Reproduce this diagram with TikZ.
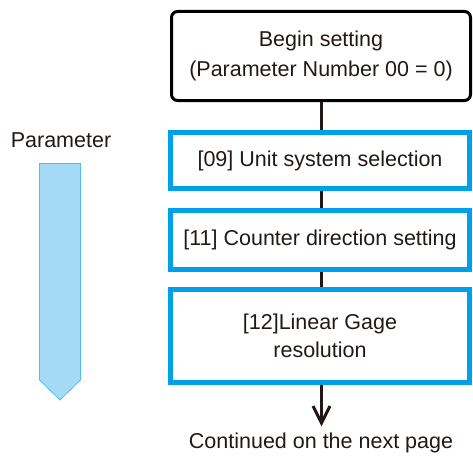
\documentclass[tikz,border=0pt]{standalone}
\usepackage{fontspec}
\setmainfont{Liberation Sans}
\definecolor{cblue}{HTML}{00A0E9}
\definecolor{afill}{HTML}{A5DAF5}
\definecolor{aline}{HTML}{4DBFEF}
\definecolor{txt}{HTML}{231815}
\begin{document}
\begin{tikzpicture}[x=1pt,y=-1pt,
  startbox/.style={draw=black,line width=3pt,rounded corners=6pt,minimum width=299pt,minimum height=89pt,align=center,text=txt,font=\fontsize{21.5}{30}\selectfont,inner sep=0pt},
  parbox/.style={draw=cblue,line width=5pt,minimum width=299pt,align=center,text=txt,font=\fontsize{21.5}{28.5}\selectfont,inner sep=0pt},
  conn/.style={line width=3pt,draw=txt},
  lbl/.style={text=txt,font=\fontsize{21.5}{24}\selectfont,inner sep=0pt}]
\useasboundingbox (0,0) rectangle (473,460);
\node[startbox] (b0) at (321,56) {Begin setting\\(Parameter Number 00 = 0)};
\node[parbox,minimum height=56pt] (b1) at (320,160.5) {[09] Unit system selection};
\node[parbox,minimum height=59pt] (b2) at (320,240) {[11] Counter direction setting};
\node[parbox,minimum height=93pt] (b3) at (320,336) {[12]Linear Gage\\resolution};
\node[lbl] (cont) at (321,443) {Continued on the next page};
\coordinate (end) at (321.5,423);
\draw[conn] (b0.south -| 321.5,0) -- (b1.north -| 321.5,0);
\draw[conn] (b1.south -| 321.5,0) -- (b2.north -| 321.5,0);
\draw[conn] (b2.south -| 321.5,0) -- (b3.north -| 321.5,0);
\draw[conn] (b3.south -| 321.5,0) -- (end);
\draw[conn,line cap=butt] (313,406) -- (end) -- (330,406);
\node[lbl] (ptitle) at (61,140) {Parameter};
\draw[fill=afill,draw=aline,line width=0.8pt] (39.5,163.5) -- (80.5,163.5) -- (80.5,380) -- (60,400) -- (39.5,380) -- cycle;
\end{tikzpicture}
\end{document}
